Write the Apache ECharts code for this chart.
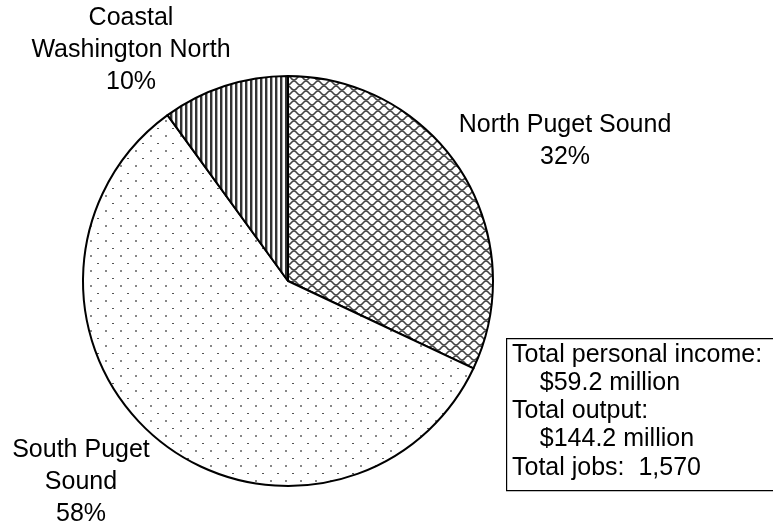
<!DOCTYPE html>
<html>
<head>
<meta charset="utf-8">
<script src="https://cdn.jsdelivr.net/npm/echarts@6/dist/echarts.min.js"></script>
<style>html,body{margin:0;padding:0;background:#fff}#c{width:773px;height:526px}</style>
</head>
<body>
<div id="c"></div>
<script>
// ---- data ----
var categories = ['North Puget Sound', 'South Puget\nSound', 'Coastal\nWashington North'];
var shares = [32, 58, 10];
var boxLines = ['Total personal income:', '    $59.2 million', 'Total output:', '    $144.2 million', 'Total jobs:  1,570'];

// ---- patterns ----
function mk(w, h, draw) { var c = document.createElement('canvas'); c.width = w; c.height = h; var g = c.getContext('2d'); g.fillStyle = '#fff'; g.fillRect(0, 0, w, h); draw(g); return c; }
var scalePat = mk(12, 10, function (g) {
  g.strokeStyle = '#444'; g.lineWidth = 1.5;
  function wave(dx, dy) {
    g.beginPath();
    g.moveTo(dx + 0, dy + 5); g.bezierCurveTo(dx + 3, dy + 5, dx + 3, dy + 1, dx + 6, dy + 1);
    g.bezierCurveTo(dx + 9, dy + 1, dx + 9, dy + 5, dx + 12, dy + 5);
    g.stroke();
  }
  [-12, 0, 12].forEach(function (ox) { [-10, 0, 10].forEach(function (oy) { wave(ox, oy); wave(ox + 6, oy + 5); }); });
});
var dotPat = mk(15, 15, function (g) {
  g.fillStyle = '#888'; g.fillRect(0, 0, 2, 2);
  g.fillStyle = '#555'; g.fillRect(7, 8, 2, 1);
});
var stripePat = mk(5, 4, function (g) {
  g.fillStyle = '#333'; g.fillRect(0, 0, 2, 4);
  g.fillStyle = '#aaa'; g.fillRect(2, 0, 1, 4);
});
var patterns = [scalePat, dotPat, stripePat];
var labelPos = [[565, 141], [81, 482], [131, 50]];

var chart = echarts.init(document.getElementById('c'), null, { renderer: 'canvas' });
var FONT = '"Liberation Sans", Arial, sans-serif';
var graphics = [{
  type: 'rect', left: 506, top: 338,
  shape: { width: 300, height: 152 },
  style: { fill: '#fff', stroke: '#000', lineWidth: 1.2 }
}];
boxLines.forEach(function (t, i) {
  graphics.push({ type: 'text', x: 512, y: 355 + i * 28.2,
    style: { text: t, font: '25px ' + FONT, fill: '#000', textVerticalAlign: 'middle', verticalAlign: 'middle' } });
});

chart.setOption({
  animation: false,
  backgroundColor: '#fff',
  series: [{
    type: 'pie',
    center: [288, 281],
    radius: 205,
    startAngle: 90,
    clockwise: true,
    data: categories.map(function (n, i) {
      return { name: n, value: shares[i], itemStyle: { color: { image: patterns[i], repeat: 'repeat' } } };
    }),
    itemStyle: { borderColor: '#000', borderWidth: 2 },
    label: {
      show: true, position: 'outside', formatter: '{b}\n{c}%', overflow: 'none', width: 400,
      fontFamily: FONT, fontSize: 25, lineHeight: 32, color: '#000', align: 'center'
    },
    labelLine: { show: false },
    labelLayout: function (p) {
      var q = labelPos[p.dataIndex];
      return { x: q[0], y: q[1], align: 'center', verticalAlign: 'middle' };
    },
    emphasis: { disabled: true }
  }],
  graphic: graphics
});
</script>
</body>
</html>
